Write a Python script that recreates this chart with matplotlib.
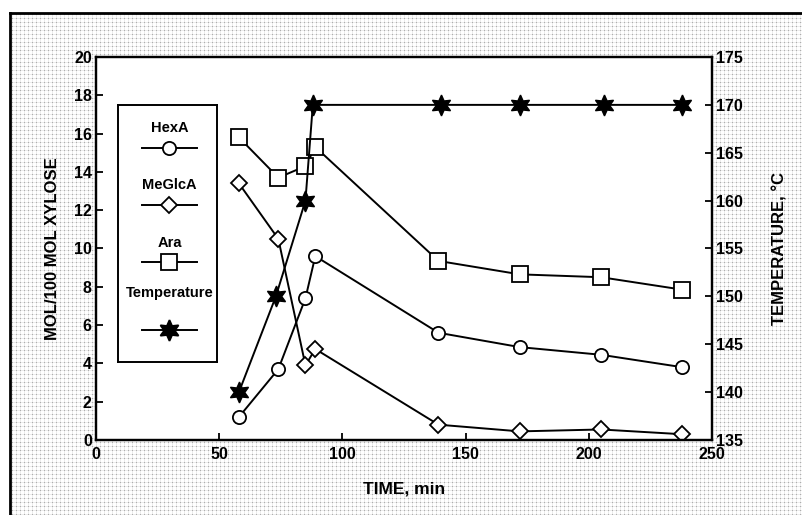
import numpy as np
import matplotlib
matplotlib.use('Agg')
import matplotlib.pyplot as plt
from matplotlib.lines import Line2D

plt.rcParams['font.family'] = ['Liberation Sans', 'DejaVu Sans']
plt.rcParams['font.weight'] = 'bold'

# data
time_min = [58, 74, 85, 89, 139, 172, 205, 238]
hexa = [1.2, 3.7, 7.4, 9.6, 5.6, 4.85, 4.45, 3.8]
meglca = [13.4, 10.5, 3.9, 4.75, 0.8, 0.45, 0.55, 0.3]
ara = [15.8, 13.7, 14.3, 15.3, 9.35, 8.65, 8.5, 7.85]
temp_time = [58, 73, 85, 88, 140, 172, 206, 238]
temperature = [140, 150, 160, 170, 170, 170, 170, 170]

W, H = 803, 515
fig = plt.figure(figsize=(W / 100, H / 100), dpi=100)
fig.patch.set_facecolor('white')

# dotted screen behind everything
yy, xx = np.mgrid[0:H, 0:W]
bg = np.ones((H, W))
bg[(yy % 4 == 0) | (xx % 4 == 0)] = 0.92
bg[(yy % 4 == 0) & (xx % 4 == 0)] = 0.68
bg[H - 13:, :] = 1.0
bg[:, :10] = 1.0
fig.figimage(bg, xo=0, yo=0, cmap='gray', vmin=0, vmax=1, origin='lower', zorder=-5)
fig.add_artist(Line2D([10 / W, 10 / W], [0, 1 - 13 / H], color='black', lw=2, transform=fig.transFigure, zorder=-4))
fig.add_artist(Line2D([10 / W, 1], [1 - 13 / H, 1 - 13 / H], color='black', lw=2, transform=fig.transFigure, zorder=-4))

ax = fig.add_axes([96 / W, 1 - 440 / H, (712 - 96) / W, (440 - 57) / H])
ax.set_facecolor('white')
ax2 = ax.twinx()

style = dict(color='black', lw=1.4, markerfacecolor='white', markeredgecolor='black', markeredgewidth=1.3)
ax.plot(time_min, hexa, marker='o', ms=9.5, **style)
ax.plot(time_min, meglca, marker='D', ms=8.5, **style)
ax.plot(time_min, ara, marker='s', ms=11, **style)
ax2.plot(temp_time, temperature, color='black', lw=1.4, marker=(6, 1, 0), ms=15, markerfacecolor='black')

ax.set_xlim(0, 250)
ax.set_ylim(0, 20)
ax2.set_ylim(135, 175)
ax.set_xticks([0, 50, 100, 150, 200, 250])
ax.set_yticks(range(0, 21, 2))
ax2.set_yticks(range(135, 176, 5))

for a in (ax, ax2):
    a.tick_params(direction='in', length=5, width=1.3, labelsize=11.5, pad=3)
    for s in a.spines.values():
        s.set_linewidth(1.6)
ax.tick_params(axis='x', pad=5)

ax.set_xlabel('TIME, min', fontsize=12.5, fontweight='bold', labelpad=14)
ax.set_ylabel('MOL/100 MOL XYLOSE', fontsize=12, fontweight='bold', labelpad=10)
ax2.set_ylabel('TEMPERATURE, °C', fontsize=12, fontweight='bold', labelpad=21)

# legend box: label above each sample line
lg = fig.add_axes([118 / W, 1 - 362 / H, (217 - 118) / W, (362 - 105) / H])
lg.set_xlim(0, 1)
lg.set_ylim(0, 1)
lg.set_xticks([])
lg.set_yticks([])
lg.set_facecolor('white')
for s in lg.spines.values():
    s.set_linewidth(1.4)
entries = [
    ('HexA', dict(marker='o', ms=9.5, markerfacecolor='white'), 0.91, 0.833),
    ('MeGlcA', dict(marker='D', ms=8.5, markerfacecolor='white'), 0.689, 0.611),
    ('Ara', dict(marker='s', ms=11, markerfacecolor='white'), 0.463, 0.389),
    ('Temperature', dict(marker=(6, 1, 0), ms=15, markerfacecolor='black'), 0.268, 0.125),
]
for name, mk, ty, ly in entries:
    lg.text(0.52, ty, name, ha='center', va='center', fontsize=10.5, fontweight='bold')
    lg.plot([0.24, 0.52, 0.80], [ly, ly, ly], color='black', lw=1.4,
            markevery=[1], markeredgecolor='black', markeredgewidth=1.3, **mk)

fig.savefig('out.png', dpi=100)
